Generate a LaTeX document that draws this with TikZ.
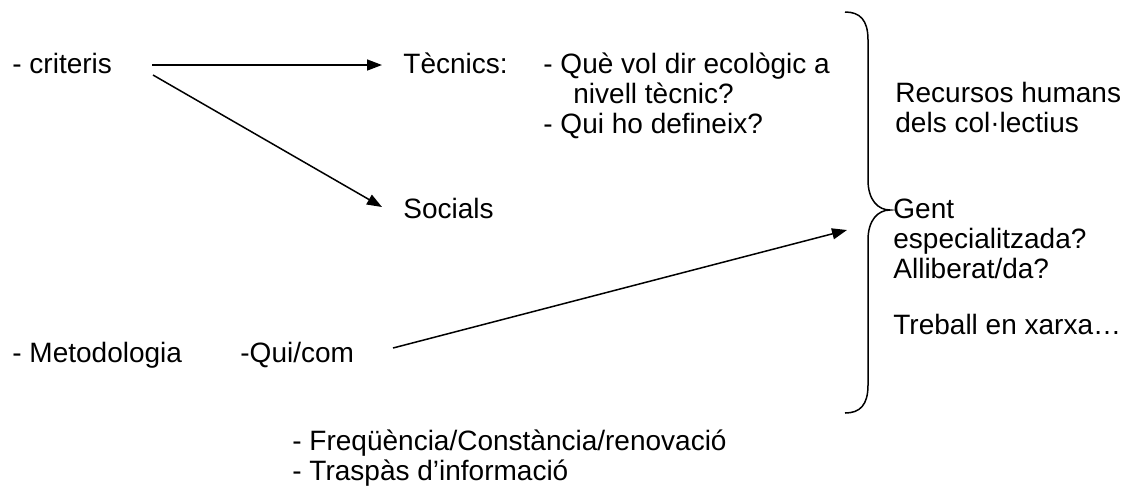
\documentclass[tikz,border=0pt]{standalone}
\usepackage{fontspec}
\setmainfont{Liberation Sans}
\usetikzlibrary{arrows.meta}
\tikzset{
  txt/.style={anchor=base west, inner sep=0pt, align=left, font=\fontsize{14}{15}\selectfont},
  arr/.style={line width=0.75pt, -{Triangle[length=7.5pt, width=5.5pt]}}
}

\begin{document}
\begin{tikzpicture}[x=0.5pt, y=-0.5pt]
			%%%%% START %%%%%
			\useasboundingbox (0, 0) rectangle (1138, 495);
			
			% multi-line nodes sit on the baseline of their last line
			\node[txt] (crit) at (12, 73) {- criteris};
			\node[txt] (tec) at (403, 73) {Tècnics:};
			\node[txt] (que) at (543, 133) {- Què vol dir ecològic a\\\hspace*{15pt}nivell tècnic?\\- Qui ho defineix?};
			\node[txt] (soc) at (403, 218) {Socials};
			
			\coordinate (c1) at (152, 65);
			\coordinate (c2) at (153, 75);
			\coordinate (t1) at (382, 65);
			\coordinate (s1) at (382, 207);
			\draw[arr] (c1) -- (t1);
			\draw[arr] (c2) -- (s1);
			
			\node[txt] (met) at (12, 362) {- Metodologia};
			\node[txt] (qui) at (240, 362) {-Qui/com};
			\node[txt] (freq) at (292, 480) {- Freqüència/Constància/renovació\\- Traspàs d’informació};
			
			\coordinate (m1) at (393, 348);
			\coordinate (m2) at (847, 230);
			\draw[arr] (m1) -- (m2);
			
			% brace
			\draw[line width=0.75pt] (845, 12) .. controls (860, 12) and (868, 20) .. (868, 40)
			  -- (868, 180) .. controls (868, 200) and (878, 210) .. (890, 210)
			  .. controls (878, 210) and (868, 220) .. (868, 240)
			  -- (868, 385) .. controls (868, 405) and (860, 413) .. (845, 413);
			
			\node[txt] (rec) at (895, 132) {Recursos humans\\dels col·lectius};
			\node[txt] (gent) at (893, 334) {Gent\\especialitzada?\\Alliberat/da?\\[13pt]Treball en xarxa…};
			%%%%% END %%%%%
\end{tikzpicture}
\end{document}
